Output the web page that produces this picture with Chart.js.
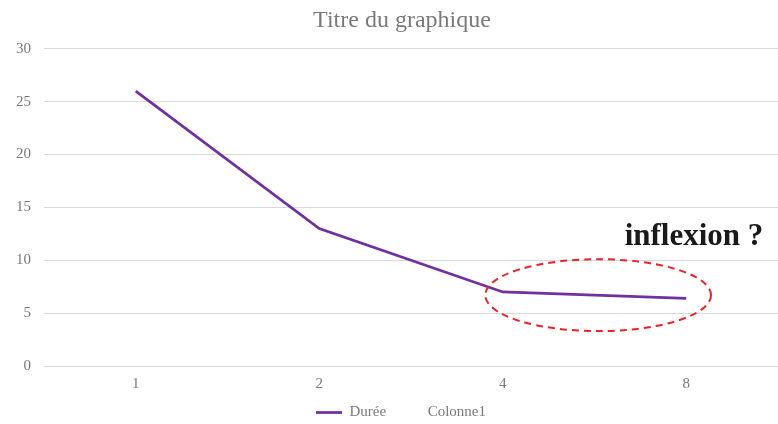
<!DOCTYPE html>
<html>
<head>
<meta charset="utf-8">
<script src="https://cdn.jsdelivr.net/npm/chart.js@4.4.1/dist/chart.umd.min.js"></script>
<style>
  html, body { margin: 0; padding: 0; background: #fff; }
  #wrap { width: 778px; height: 424px; }
</style>
</head>
<body>
<div id="wrap"><canvas id="chart" width="778" height="424"></canvas></div>
<script>
// data
const categories = ["1", "2", "4", "8"];
const dureeValues = [26, 13, 7, 6.4];
const colonne1Values = [];
const yTicks = [0, 5, 10, 15, 20, 25, 30];

const serif = "'Liberation Serif', 'Times New Roman', serif";

// dashed ellipse + note, placed through the scales
const annotePlugin = {
    id: "annote",
    afterLayout(chart) {
        // nudge legend and title to where the original sits
        const lg = chart.legend;
        lg.left += 12; lg.right += 12;
        lg.top += 6; lg.bottom += 6;
        const tb = chart.titleBlock;
        tb.left += 13; tb.right += 13;
        tb.top += 1; tb.bottom += 1;
    },
    afterDatasetsDraw(chart) {
        const { ctx, scales: { x, y } } = chart;
        const cx = x.getPixelForValue(2.52);
        const cy = y.getPixelForValue(6.7);
        const rx = x.getPixelForValue(2.52 + 0.615) - cx;
        const ry = y.getPixelForValue(6.7) - y.getPixelForValue(6.7 + 3.4);
        ctx.save();
        ctx.strokeStyle = "#e8232a";
        ctx.lineWidth = 2;
        ctx.setLineDash([7, 5]);
        ctx.beginPath();
        ctx.ellipse(cx, cy, rx, ry, 0, 0, Math.PI * 2);
        ctx.stroke();
        ctx.setLineDash([]);
        ctx.fillStyle = "#1a1a1a";
        ctx.font = "bold 31px " + serif;
        ctx.textAlign = "right";
        ctx.textBaseline = "alphabetic";
        ctx.fillText("inflexion ?", x.getPixelForValue(3.42), y.getPixelForValue(11.45));
        ctx.restore();
    }
};

new Chart(document.getElementById("chart"), {
    type: "line",
    data: {
        labels: categories,
        datasets: [
            {
                label: "Durée",
                data: dureeValues,
                borderColor: "#7030a0",
                backgroundColor: "#7030a0",
                borderWidth: 2.75,
                pointRadius: 0,
                tension: 0
            },
            {
                label: "Colonne1",
                data: colonne1Values,
                borderColor: "rgba(0,0,0,0)",
                backgroundColor: "rgba(0,0,0,0)",
                borderWidth: 2.5,
                pointRadius: 0
            }
        ]
    },
    options: {
        responsive: false,
        animation: false,
        layout: { padding: 0 },
        plugins: {
            title: {
                display: true,
                text: "Titre du graphique",
                color: "#7a7a7a",
                font: { family: serif, size: 24, weight: "normal" },
                padding: { top: 5, bottom: 15 }
            },
            legend: {
                position: "bottom",
                labels: {
                    color: "#7a7a7a",
                    font: { family: serif, size: 15 },
                    usePointStyle: true,
                    pointStyle: "line",
                    pointStyleWidth: 26,
                    padding: 8
                }
            },
            tooltip: { enabled: false }
        },
        scales: {
            x: {
                offset: true,
                afterFit(scale) { scale.height = 25; },
                grid: { display: false, drawTicks: false },
                border: { display: true, color: "#d9d9d9", width: 1 },
                ticks: {
                    color: "#7a7a7a",
                    font: { family: serif, size: 15 },
                    padding: 9
                }
            },
            y: {
                min: 0,
                max: 30,
                afterFit(scale) { scale.width = 44; },
                afterBuildTicks(scale) { scale.ticks = yTicks.map(v => ({ value: v })); },
                grid: { color: "#d9d9d9", drawTicks: false },
                border: { display: false },
                ticks: {
                    color: "#7a7a7a",
                    font: { family: serif, size: 15 },
                    padding: 13
                }
            }
        }
    },
    plugins: [annotePlugin]
});
</script>
</body>
</html>
